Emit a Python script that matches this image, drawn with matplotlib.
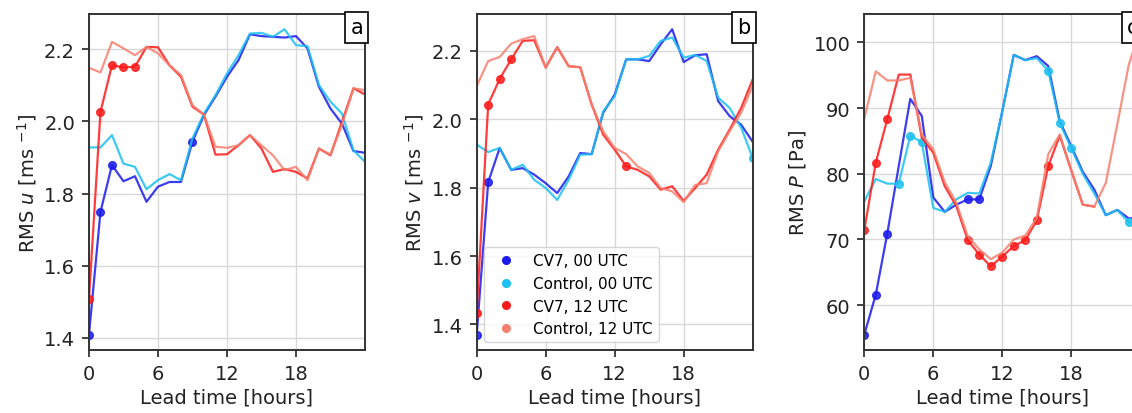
import numpy as np
import matplotlib
matplotlib.use("Agg")
import matplotlib.pyplot as plt
from matplotlib.lines import Line2D

nan = np.nan
hours = list(range(25))

# panel a: RMS u
a_cv7_00 = [1.408, 1.749, 1.879, 1.834, 1.848, 1.777, 1.819, 1.832, 1.832, 1.944, 2.018, 2.069, 2.124,
            2.170, 2.242, 2.237, 2.235, 2.233, 2.237, 2.203, 2.096, 2.036, 1.994, 1.918, 1.913]
a_ctl_00 = [1.928, 1.928, 1.962, 1.883, 1.874, 1.812, 1.837, 1.854, 1.837, 1.953, 2.022, 2.073, 2.133,
            2.184, 2.244, 2.246, 2.235, 2.256, 2.212, 2.209, 2.101, 2.055, 2.022, 1.920, 1.888]
a_cv7_12 = [1.508, 2.027, 2.156, 2.150, 2.152, 2.207, 2.206, 2.156, 2.124, 2.041, 2.019, 1.908, 1.909,
            1.934, 1.962, 1.925, 1.860, 1.868, 1.860, 1.842, 1.925, 1.906, 1.999, 2.092, 2.075]
a_ctl_12 = [2.149, 2.136, 2.221, 2.203, 2.184, 2.207, 2.189, 2.156, 2.129, 2.045, 2.019, 1.930, 1.927,
            1.934, 1.962, 1.934, 1.906, 1.865, 1.874, 1.837, 1.925, 1.908, 1.990, 2.092, 2.087]

# panel b: RMS v
b_cv7_00 = [1.370, 1.816, 1.916, 1.852, 1.857, 1.838, 1.813, 1.784, 1.833, 1.901, 1.898, 2.019, 2.072,
            2.175, 2.175, 2.170, 2.219, 2.263, 2.167, 2.187, 2.190, 2.053, 2.009, 1.984, 1.934]
b_ctl_00 = [1.926, 1.904, 1.916, 1.852, 1.867, 1.823, 1.799, 1.764, 1.823, 1.896, 1.898, 2.023, 2.067,
            2.175, 2.175, 2.185, 2.229, 2.239, 2.180, 2.188, 2.170, 2.063, 2.033, 1.975, 1.887]
b_cv7_12 = [1.434, 2.043, 2.118, 2.175, 2.229, 2.231, 2.151, 2.211, 2.155, 2.152, 2.043, 1.955, 1.911,
            1.862, 1.852, 1.833, 1.794, 1.804, 1.761, 1.799, 1.838, 1.911, 1.970, 2.033, 2.116]
b_ctl_12 = [2.097, 2.170, 2.182, 2.221, 2.234, 2.243, 2.151, 2.209, 2.155, 2.152, 2.043, 1.965, 1.916,
            1.898, 1.862, 1.843, 1.799, 1.789, 1.758, 1.808, 1.813, 1.906, 1.965, 2.019, 2.097]

# panel c: RMS P
c_cv7_00 = [55.5, 61.6, 70.9, 81.2, 91.4, 88.8, 76.4, 74.2, 75.3, 76.1, 76.1, 81.2, 89.5,
            98.1, 97.3, 97.9, 96.4, 88.0, 84.2, 80.3, 77.6, 73.7, 74.5, 73.2, 73.3]
c_ctl_00 = [75.8, 79.2, 78.5, 78.5, 85.8, 84.8, 74.8, 74.2, 76.1, 77.1, 77.0, 81.7, 89.5,
            98.1, 97.3, 97.6, 95.7, 87.7, 83.9, 80.0, 77.0, 73.7, 74.5, 72.6, 72.8]
c_cv7_12 = [71.4, 81.7, 88.3, 95.1, 95.1, 85.5, 83.2, 78.1, 75.1, 69.9, 67.7, 65.9, 67.4,
            69.0, 69.9, 72.9, 81.2, 85.8, 80.5, 75.3, 75.0, nan, nan, nan, nan]
c_ctl_12 = [88.4, 95.6, 94.2, 94.2, 94.6, 86.0, 83.7, 78.7, 75.6, 70.5, 68.5, 67.0, 68.0,
            70.0, 70.6, 73.3, 83.0, 86.0, 80.6, 75.3, 75.0, 78.6, 87.5, 96.6, 102.0]

# hours where a marker is drawn
marks = {
    "a": [[0, 1, 2, 9], [], [0, 1, 2, 3, 4], []],
    "b": [[0, 1], [24], [0, 1, 2, 3, 13], []],
    "c": [[0, 1, 2, 9, 10], [3, 4, 5, 16, 17, 18, 23], [0, 1, 2, 9, 10, 11, 12, 13, 14, 15, 16], []],
}

labels = ["CV7, 00 UTC", "Control, 00 UTC", "CV7, 12 UTC", "Control, 12 UTC"]
colors = ["#1a1aee", "#1cc0f2", "#ff1a1a", "#f5806f"]

panels = [
    ("a", [a_cv7_00, a_ctl_00, a_cv7_12, a_ctl_12], r"RMS $u$ [ms $^{-1}$]", [1.4, 1.6, 1.8, 2.0, 2.2]),
    ("b", [b_cv7_00, b_ctl_00, b_cv7_12, b_ctl_12], r"RMS $v$ [ms $^{-1}$]", [1.4, 1.6, 1.8, 2.0, 2.2]),
    ("c", [c_cv7_00, c_ctl_00, c_cv7_12, c_ctl_12], r"RMS $P$ [Pa]", [60, 70, 80, 90, 100]),
]

fig = plt.figure(figsize=(11.32, 4.14), dpi=100)
lefts = [0.0786, 0.4211, 0.7635]

for left, (tag, series, ylab, yt) in zip(lefts, panels):
    ax = fig.add_axes([left, 0.1522, 0.2438, 0.8116])
    for vals, col, mk in zip(series, colors, marks[tag]):
        ax.plot(hours, vals, color=col, lw=1.6, alpha=0.85,
                marker="o", ms=5.5, markevery=mk if mk else [])
    ax.set_xlim(0, 24)
    ax.set_xticks([0, 6, 12, 18])
    ax.set_yticks(yt)
    ax.grid(True, color="#d8d8d8", lw=1)
    ax.set_axisbelow(True)
    ax.tick_params(labelsize=14, colors="#222222", width=1.2, length=5, pad=5)
    for s in ax.spines.values():
        s.set_color("#333333")
        s.set_linewidth(1.4)
    ax.set_xlabel("Lead time [hours]", fontsize=14, color="#222222", labelpad=3)
    ax.set_ylabel(ylab, fontsize=14, color="#222222")
    ax.text(0.993, 0.99, tag, transform=ax.transAxes, ha="right", va="top", fontsize=15,
            bbox=dict(facecolor="white", edgecolor="black", boxstyle="square,pad=0.25", lw=1.2))
    if tag == "b":
        handles = [Line2D([], [], ls="none", marker="o", ms=5.5, color=c) for c in colors]
        ax.legend(handles, labels, loc="lower left", fontsize=11, framealpha=0.8)

fig.savefig("out.png", dpi=100)
